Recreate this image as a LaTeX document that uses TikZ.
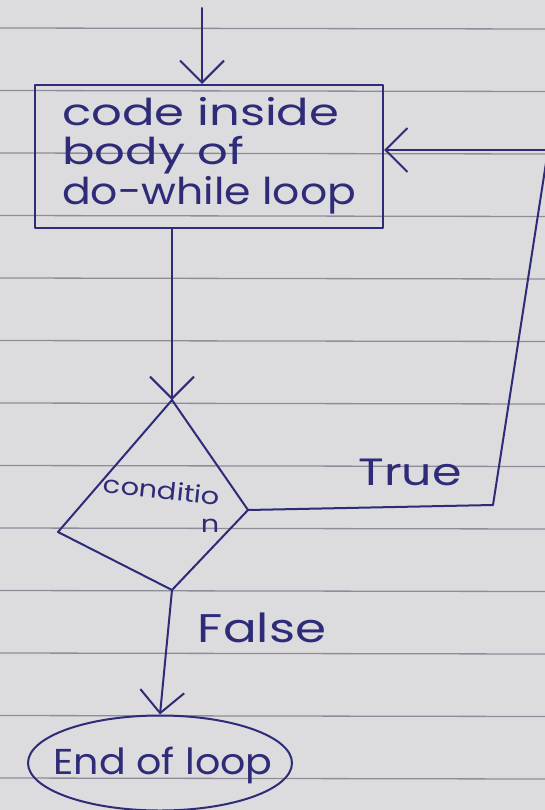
\documentclass[tikz,border=0pt]{standalone}
\usepackage{fontspec}
\setmainfont{Poppins}
\usetikzlibrary{arrows.meta,shapes.geometric}
\definecolor{ink}{HTML}{2E2C78}
\definecolor{paper}{HTML}{DCDBDD}
\definecolor{rule}{HTML}{8F8C9A}
\tikzset{
  pen/.style={draw=ink, line width=2pt, line cap=round, line join=round},
  arr/.style={pen, -{Straight Barb[length=22pt,width=44pt,line width=2pt]}},
  hand/.style={text=ink, inner sep=0pt},
}
\begin{document}
\begin{tikzpicture}[x=1pt,y=-1pt]
\useasboundingbox (0,0) rectangle (545,810);
\clip (0,0) rectangle (545,810);
\fill[paper] (0,0) rectangle (545,810);
\foreach \k in {0,...,12}{
  \draw[rule, line width=1.3pt] (0,{28+62.5*\k}) -- (545,{29+62.5*\k});
}
% box
\node[pen, rectangle, minimum width=348pt, minimum height=143pt] (box) at (209,156.5) {};
\node[hand, anchor=west, xscale=1.3, font=\fontsize{37}{37}\selectfont] (t1) at (62,112) {code inside};
\node[hand, anchor=west, xscale=1.3, font=\fontsize{37}{37}\selectfont] (t2) at (62,155) {body of};
\node[hand, anchor=west, xscale=1.15, font=\fontsize{37}{37}\selectfont] (t3) at (62,195) {do-while loop};
% start arrow
\coordinate (start) at (202,8);
\draw[arr] (start) -- (start |- box.north);
% diamond
\coordinate (dt) at (172,400);
\coordinate (dr) at (248,510);
\coordinate (db) at (172,590);
\coordinate (dl) at (58,532);
\draw[pen] (dt) -- (dr) -- (db) -- (dl) -- cycle;
\node[hand, rotate=-6, xscale=1.2, font=\fontsize{24}{24}\selectfont] (cond) at (162,490) {conditio};
\node[hand, xscale=1.2, font=\fontsize{24}{24}\selectfont] (condn) at (210,526) {n};
% box to diamond
\draw[arr] (box.south -| dt) -- (dt);
% true loop back
\coordinate (c1) at (493,505);
\coordinate (c2) at (548,150);
\draw[pen] (dr) -- (c1) -- (c2);
\draw[arr] (c2) -- (box.east |- c2);
\node[hand, xscale=1.25, font=\fontsize{38}{38}\selectfont] (true) at (410,472) {True};
% end ellipse
\node[pen, ellipse, minimum width=264pt, minimum height=95pt] (end) at (160,763) {};
\node[hand, xscale=1.1, font=\fontsize{36}{36}\selectfont] (endt) at (163,765) {End of loop};
\draw[arr] (db) -- (end.north);
\node[hand, xscale=1.25, font=\fontsize{40}{40}\selectfont] (false) at (262,628) {False};
\end{tikzpicture}
\end{document}
